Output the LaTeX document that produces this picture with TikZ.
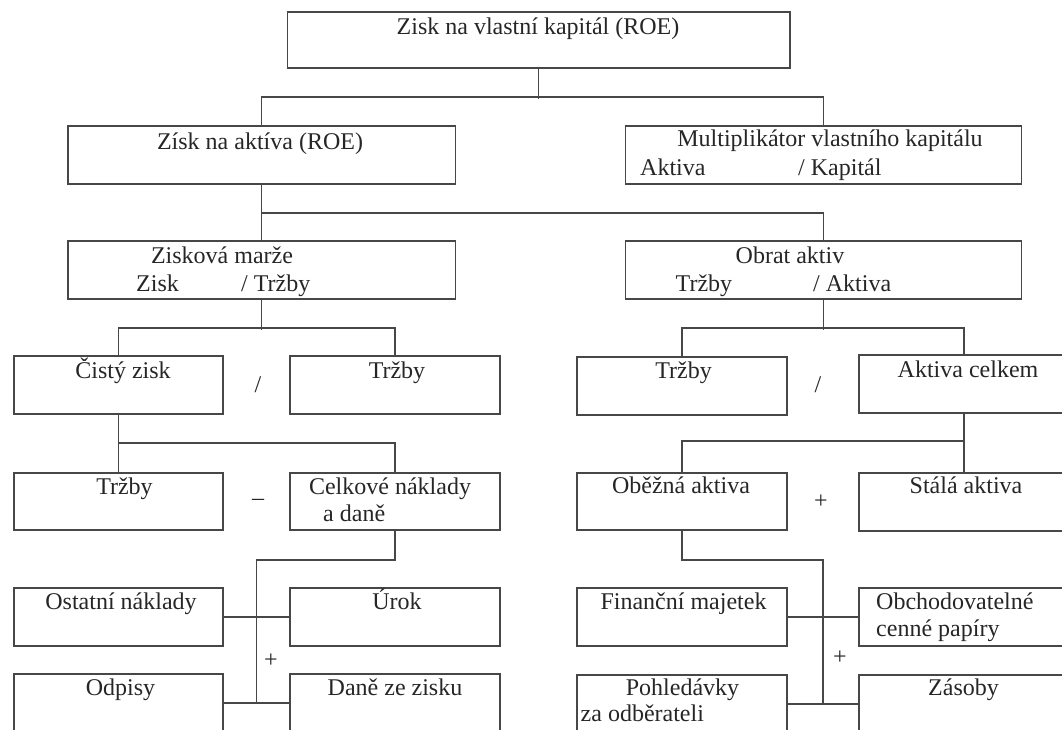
\documentclass[tikz,border=0pt]{standalone}
\usepackage{fontspec}
\setmainfont{Liberation Serif}
\usetikzlibrary{calc}

\begin{document}
\begin{tikzpicture}[x=1pt,y=1pt,
	box/.style={rectangle,draw=black!72,line width=1.7pt,anchor=north west,minimum width=210pt,minimum height=58pt,inner sep=0pt},
	txt/.style={anchor=base,inner sep=0pt,text=black!85,font=\fontsize{24}{29}\selectfont},
	ltxt/.style={txt,anchor=base west},
	op/.style={inner sep=0pt,text=black!85,font=\fontsize{24}{29}\selectfont},
	line/.style={draw=black!72,line width=1.7pt}]
	\useasboundingbox (0,0) rectangle (1062,-729);
	\clip (0,0) rectangle (1062,-729);

	\node[box,minimum width=502.5pt,minimum height=56pt] (roe) at (286.5,-11) {};
	\node[box,minimum width=387.5pt] (ra) at (67,-125) {};
	\node[box,minimum width=396pt] (mk) at (624.5,-125) {};
	\node[box,minimum width=387.5pt] (zm) at (67,-240) {};
	\node[box,minimum width=396pt] (oa) at (624.5,-240) {};
	\node[box,minimum width=209pt] (cz) at (13,-355) {};
	\node[box] (trA) at (289,-355) {};
	\node[box] (trB) at (576,-356) {};
	\node[box] (ac) at (858,-354) {};
	\node[box,minimum width=209pt,minimum height=57pt] (trC) at (13,-472) {};
	\node[box,minimum height=57pt] (cn) at (289,-472) {};
	\node[box,minimum height=57pt] (ob) at (576,-472) {};
	\node[box] (sa) at (858,-472) {};
	\node[box,minimum width=209pt] (on) at (13,-587) {};
	\node[box] (ur) at (289,-587) {};
	\node[box] (fm) at (576,-587) {};
	\node[box] (ocp) at (858,-587) {};
	\node[box,minimum width=209pt] (odp) at (13,-673) {};
	\node[box] (dz) at (289,-673) {};
	\node[box] (poh) at (576,-674) {};
	\node[box] (zas) at (858,-674) {};

	\node[txt] (roeT) at (538,-34) {Zisk na vlastní kapitál (ROE)};
	\node[txt] (raT) at (260,-149.5) {Získ na aktíva (ROE)};
	\node[txt] (mkT) at (830,-146.5) {Multiplikátor vlastního kapitálu};
	\node[ltxt] (mkA) at (640,-175) {Aktiva};
	\node[ltxt] (mkK) at (798,-175) {/ Kapitál};
	\node[txt] (zmT) at (222,-263) {Zisková marže};
	\node[ltxt] (zmZ) at (136,-291.5) {Zisk};
	\node[ltxt] (zmR) at (241,-291.5) {/ Tržby};
	\node[txt] (oaT) at (790,-263) {Obrat aktiv};
	\node[ltxt] (oaR) at (675.5,-291.5) {Tržby};
	\node[ltxt] (oaA) at (813,-291.5) {/ Aktiva};
	\node[txt] (czT) at (123,-378) {Čistý zisk};
	\node[txt] (trAT) at (397,-378) {Tržby};
	\node[txt] (trBT) at (683.5,-378) {Tržby};
	\node[txt] (acT) at (968,-377) {Aktiva celkem};
	\node[txt] (trCT) at (124.5,-494) {Tržby};
	\node[txt] (cnT) at (390,-494) {Celkové náklady};
	\node[ltxt] (cnD) at (323,-521.5) {a daně};
	\node[txt] (obT) at (681,-493) {Oběžná aktiva};
	\node[txt] (saT) at (966,-493) {Stálá aktiva};
	\node[txt] (onT) at (121,-609) {Ostatní náklady};
	\node[txt] (urT) at (397,-609) {Úrok};
	\node[txt] (fmT) at (683.5,-609) {Finanční majetek};
	\node[ltxt] (ocpT) at (876,-609) {Obchodovatelné};
	\node[ltxt] (ocpC) at (876,-636.5) {cenné papíry};
	\node[txt] (odpT) at (120.5,-695) {Odpisy};
	\node[txt] (dzT) at (395,-695) {Daně ze zisku};
	\node[txt] (pohT) at (682.5,-695) {Pohledávky};
	\node[ltxt] (pohZ) at (580.5,-721.5) {za odběrateli};
	\node[txt] (zasT) at (963.5,-695) {Zásoby};

	\node[op] (divL) at (258,-385) {/};
	\node[op] (divR) at (818,-385) {/};
	\node[op] (minus) at (258,-502) {–};
	\node[op] (plusR) at (821,-502) {+};
	\node[op] (plusL) at (271,-661) {+};
	\node[op] (plusRR) at (840,-658) {+};

	\coordinate (jl) at ($(odp.east)!.5!(dz.west)$);
	\coordinate (jr) at ($(poh.east)!.5!(zas.west)$);

\draw[line] (roe.south) -- ++(0,-30);
\draw[line] (ra.north) -- ++(0,28) -| (mk.north);
\draw[line] (ra.south) -- (zm.north);
\draw[line] (ra.south) -- ++(0,-28) -| (oa.north);
\draw[line] (zm.south) -- ++(0,-30);
\draw[line] (cz.north) -- ++(0,27) -| (trA.north);
\draw[line] (oa.south) -- ++(0,-30);
\draw[line] (trB.north) -- ++(0,28) -| (ac.north);
\draw[line] (cz.south) -- (trC.north);
\draw[line] (cz.south) ++(0,-28) -| (cn.north);
\draw[line] (ac.south) -- (sa.north);
\draw[line] (ob.north) -- ++(0,31) -| (ac.south);
\draw[line] (cn.south) -- ++(0,-29) -| (jl);
\draw[line] (on.east) -- (ur.west);
\draw[line] (odp.east) -- (dz.west);
\draw[line] (ob.south) -- ++(0,-29) -| (jr);
\draw[line] (fm.east) -- (ocp.west);
\draw[line] (poh.east) -- (zas.west);

\end{tikzpicture}
\end{document}
